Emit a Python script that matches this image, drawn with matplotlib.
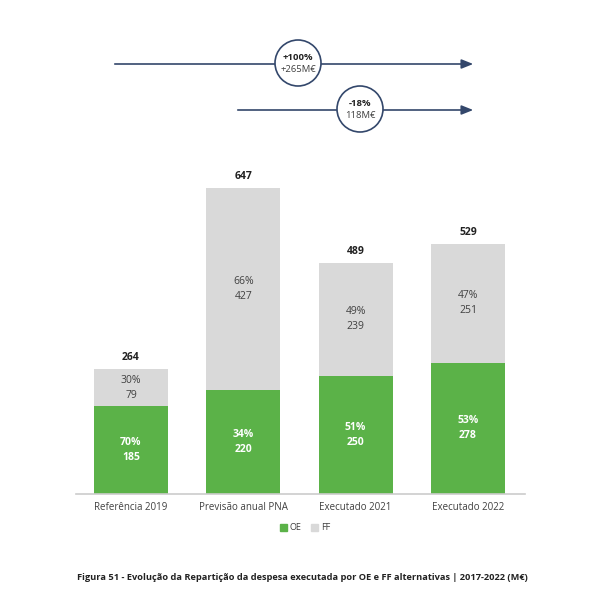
import matplotlib.pyplot as plt
import matplotlib.patches as mpatches
import numpy as np

plt.rcParams['font.family'] = ['Open Sans', 'DejaVu Sans']

categories = ["Referência 2019", "Previsão anual PNA", "Executado 2021", "Executado 2022"]
oe_values = [185, 220, 250, 278]
ff_values = [79, 427, 239, 251]
totals = [264, 647, 489, 529]
oe_pct = [70, 34, 51, 53]
ff_pct = [30, 66, 49, 47]

# change bubbles: (top text, bottom text)
change_labels = [("+100%", "+265M€"), ("-18%", "118M€")]

green = "#5BB248"
grey = "#D9D9D9"
navy = "#33476B"
text_col = "#404040"

fig = plt.figure(figsize=(5.98, 5.92), dpi=100)

# bars
ax = fig.add_axes([76 / 598, 1 - 494 / 592, 449 / 598, 324 / 592])
x = np.arange(len(categories))
w = 0.66
ax.bar(x, oe_values, width=w, color=green, zorder=2)
ax.bar(x, ff_values, width=w, bottom=oe_values, color=grey, zorder=2)

for i in range(len(categories)):
    ax.text(x[i], oe_values[i] / 2, f"{oe_pct[i]}%\n{oe_values[i]}", ha="center", va="center",
            color="white", fontsize=7.5, fontweight="bold", linespacing=1.5)
    ax.text(x[i], oe_values[i] + ff_values[i] / 2, f"{ff_pct[i]}%\n{ff_values[i]}", ha="center",
            va="center", color=text_col, fontsize=7.5, linespacing=1.5)
    ax.text(x[i], totals[i] + 12, str(totals[i]), ha="center", va="bottom", color="#222222",
            fontsize=7.5, fontweight="bold")

ax.set_xlim(-0.489, 3.507)
ax.set_ylim(0, 685)
ax.set_xticks(x)
ax.set_xticklabels(categories, fontsize=7, color=text_col)
ax.tick_params(axis="x", length=0, pad=6)
ax.set_yticks([])
for s in ["top", "right", "left"]:
    ax.spines[s].set_visible(False)
ax.spines["bottom"].set_color("#CCCCCC")
ax.spines["bottom"].set_linewidth(1.2)

# legend
handles = [mpatches.Patch(color=green, label="OE"), mpatches.Patch(color=grey, label="FF")]
fig.legend(handles=handles, loc="center", bbox_to_anchor=(305 / 598, 1 - 528 / 592), ncol=2,
           frameon=False, fontsize=6.5, handlelength=0.8, handleheight=0.8, handletextpad=0.3,
           columnspacing=1.0, labelcolor=text_col)

# arrows with change bubbles (overlay in pixel coords)
ov = fig.add_axes([0, 0, 1, 1])
ov.set_xlim(0, 598)
ov.set_ylim(592, 0)
ov.axis("off")

arrows = [(112, 476, 64, 298), (235, 476, 110, 360)]
for (x0, x1, y, cx), (top, bottom) in zip(arrows, change_labels):
    ov.annotate("", xy=(x1, y), xytext=(x0, y),
                arrowprops=dict(arrowstyle="-|>,head_length=0.7,head_width=0.28", color=navy, lw=1.2))
    ov.add_patch(mpatches.Circle((cx, y - 1), 23, facecolor="white", edgecolor=navy, lw=1.2, zorder=3))
    ov.text(cx, y - 7, top, ha="center", va="center", fontsize=6.8, fontweight="bold", color="#222222", zorder=4)
    ov.text(cx, y + 5, bottom, ha="center", va="center", fontsize=6.8, color=text_col, zorder=4)

fig.text(302 / 598, 1 - 578 / 592,
         "Figura 51 - Evolução da Repartição da despesa executada por OE e FF alternativas | 2017-2022 (M€)",
         ha="center", va="center", fontsize=6.7, fontweight="bold", color="#222222")

fig.savefig("out.png", dpi=100)
